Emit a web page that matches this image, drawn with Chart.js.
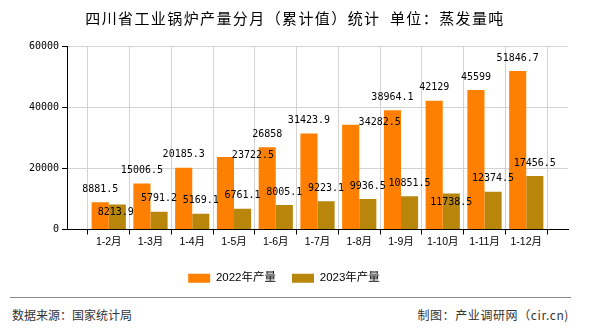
<!DOCTYPE html>
<html>
<head>
<meta charset="utf-8">
<script src="https://cdn.jsdelivr.net/npm/chart.js@4"></script>
<style>
    body { margin: 0; background: #fff; }
    #wrap { position: relative; width: 590px; height: 330px; overflow: hidden; }
    #title { position: absolute; left: 0; top: 10px; width: 590px; text-align: center; letter-spacing: 1.4px;
             font: 15px/15px "Noto Sans CJK SC", sans-serif; color: #000; white-space: pre; }
    #costChart { position: absolute; left: 0; top: 0; }
    #rule { position: absolute; left: 10px; top: 297px; width: 561px; height: 0; border-top: 1px solid #888; }
    .foot { position: absolute; top: 308px; font: 12px/14px "Noto Sans CJK SC", sans-serif; color: #333; }
</style>
</head>
<body>
<div id="wrap">
    <canvas id="costChart" width="590" height="296"></canvas>
    <div id="title">四川省工业锅炉产量分月（累计值）统计  单位：蒸发量吨</div>
    <div id="rule"></div>
    <div class="foot" style="left:12px">数据来源：国家统计局</div>
    <div class="foot" style="right:21px; letter-spacing: 0.6px">制图：产业调研网（cir.cn)</div>
</div>
<script>
const months = ['1-2月', '1-3月', '1-4月', '1-5月', '1-6月', '1-7月', '1-8月', '1-9月', '1-10月', '1-11月', '1-12月'];
const output2022 = [8881.5, 15006.5, 20185.3, 23722.5, 26858, 31423.9, 34282.5, 38964.1, 42129, 45599, 51846.7];
const output2023 = [8213.9, 5791.2, 5169.1, 6761.1, 8005.1, 9223.1, 9936.5, 10851.5, 11738.5, 12374.5, 17456.5];
const yTicks = [0, 20000, 40000, 60000];

// labels that were moved aside in the original (dataset -> month index -> [dx, dy])
const labelNudge = {
    0: { 3: [27.5, 11], 6: [29, 11] },
    1: { 0: [-1.5, 21], 8: [0, 22] }
};

// empty slot at each end so ticks sit on the gridlines like the original
const pad = arr => [null].concat(arr, [null]);

const valueLabels = {
    id: 'valueLabels',
    afterDatasetsDraw(chart) {
        const ctx = chart.ctx;
        ctx.save();
        ctx.font = '10px "DejaVu Sans Mono"';
        ctx.fillStyle = '#000';
        ctx.textAlign = 'center';
        ctx.textBaseline = 'middle';
        chart.data.datasets.forEach((ds, d) => {
            chart.getDatasetMeta(d).data.forEach((bar, i) => {
                const v = ds.data[i];
                if (v == null) return;
                const n = (labelNudge[d] && labelNudge[d][i - 1]) || [0, 0];
                ctx.fillText(String(v), bar.x + n[0], bar.y - 13 + n[1]);
            });
        });
        ctx.restore();
    }
};

const ctx = document.getElementById('costChart').getContext('2d');
var chart = new Chart(ctx, {
    type: 'bar',
    data: {
        labels: [''].concat(months, ['']),
        datasets: [{
            label: '2022年产量',
            backgroundColor: 'rgb(255,128,0)',
            data: pad(output2022)
        }, {
            label: '2023年产量',
            backgroundColor: 'rgb(184,134,11)',
            data: pad(output2023)
        }]
    },
    options: {
        responsive: false,
        animation: false,
        categoryPercentage: 0.82,
        barPercentage: 1,
        layout: { padding: { top: 46, right: 22, left: 0, bottom: 2 } },
        plugins: {
            tooltip: { enabled: false },
            legend: {
                position: 'bottom',
                labels: {
                    boxWidth: 22,
                    boxHeight: 9,
                    padding: 16,
                    color: '#000',
                    font: { family: '"Liberation Sans", "Noto Sans CJK SC"', size: 11.5 }
                }
            }
        },
        scales: {
            x: {
                offset: false,
                grid: { color: '#d3d3d3', tickColor: '#000', tickLength: 5 },
                border: { color: '#000' },
                ticks: {
                    color: '#000',
                    padding: 1,
                    maxRotation: 0,
                    autoSkip: false,
                    font: { family: '"Liberation Sans", "Noto Sans CJK SC"', size: 10.5 }
                },
                afterFit: s => { s.height = 27; }
            },
            y: {
                min: 0,
                max: 60000,
                afterBuildTicks: s => { s.ticks = yTicks.map(v => ({ value: v })); },
                grid: { color: '#d3d3d3', tickColor: '#000', tickLength: 5 },
                border: { color: '#000' },
                ticks: {
                    color: '#000',
                    padding: 3,
                    font: { family: '"DejaVu Sans Mono"', size: 10 },
                    callback: v => String(v)
                },
                afterFit: s => { s.width = 67; }
            }
        }
    },
    plugins: [valueLabels]
});
</script>
</body>
</html>
